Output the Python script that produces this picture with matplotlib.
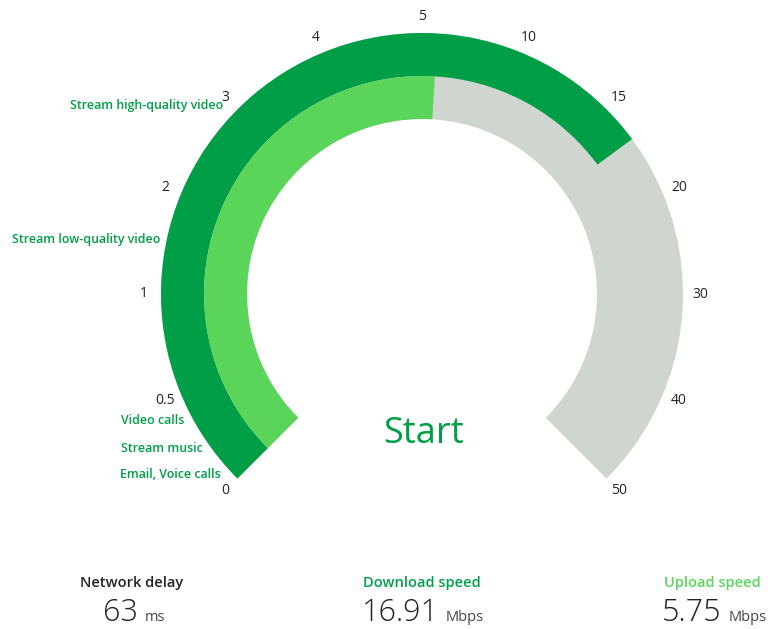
import numpy as np
import matplotlib.pyplot as plt
from matplotlib.patches import Wedge

plt.rcParams['font.family'] = ['Open Sans', 'DejaVu Sans']

# gauge scale
tick_values = [0, 0.5, 1, 2, 3, 4, 5, 10, 15, 20, 30, 40, 50]
tick_labels = ['0', '0.5', '1', '2', '3', '4', '5', '10', '15', '20', '30', '40', '50']

download = 16.91
upload = 5.75
delay = 63

usage_labels = ['Stream high-quality video', 'Stream low-quality video',
                'Video calls', 'Stream music', 'Email, Voice calls']
usage_pos = [(223, 106, 'right'), (160, 240, 'right'),
             (121, 420, 'left'), (121, 448, 'left'), (120, 474, 'left')]

dark_green = '#009E47'
light_green = '#5AD55A'
track_gray = '#CFD5CF'

W, H = 768, 629
cx, cy = 422, H - 294
r_out, r_mid, r_in = 261, 218, 175


def to_angle(v):
    # 270 degree sweep, equal spacing between ticks
    return 225 - 22.5 * np.interp(v, tick_values, np.arange(len(tick_values)))


fig = plt.figure(figsize=(W / 100, H / 100), dpi=100)
ax = fig.add_axes([0, 0, 1, 1])
ax.set_xlim(0, W)
ax.set_ylim(0, H)
ax.set_aspect('equal')
ax.axis('off')

ax.add_patch(Wedge((cx, cy), r_out, -45, 225, width=r_out - r_in, color=track_gray, lw=0))
ax.add_patch(Wedge((cx, cy), r_out, to_angle(download), 225, width=r_out - r_mid,
                   color=dark_green, lw=0))
ax.add_patch(Wedge((cx, cy), r_mid, to_angle(upload), 225, width=r_mid - r_in,
                   color=light_green, lw=0))

for v, lab in zip(tick_values, tick_labels):
    a = np.radians(to_angle(v))
    ax.text(cx + 278 * np.cos(a), cy + 278 * np.sin(a), lab, ha='center', va='center',
            fontsize=10, color='#222222')

for lab, (x, y, ha) in zip(usage_labels, usage_pos):
    ax.text(x, H - y, lab, ha=ha, va='center', fontsize=8.9, color=dark_green,
            fontweight='semibold')

ax.text(424, H - 434, 'Start', ha='center', va='center', fontsize=26, color=dark_green)

# readouts at the bottom
heads = ['Network delay', 'Download speed', 'Upload speed']
head_cols = ['#222222', dark_green, light_green]
head_x = [132, 422, 712]
nums = [str(delay), '%.2f' % download, '%.2f' % upload]
units = ['ms', 'Mbps', 'Mbps']
num_x = [103, 362, 662]
for h, c, x in zip(heads, head_cols, head_x):
    ax.text(x, H - 583, h, ha='center', va='center', fontsize=10.5, color=c,
            fontweight='semibold')
for n, u, x in zip(nums, units, num_x):
    t = ax.text(x, H - 621, n, ha='left', va='baseline', fontsize=22, color='#222222',
                fontweight='light')
    fig.canvas.draw()
    bb = t.get_window_extent()
    ax.text(bb.x1 + 7, H - 621, u, ha='left', va='baseline', fontsize=10.5, color='#444444')

fig.savefig('out.png', dpi=100)
